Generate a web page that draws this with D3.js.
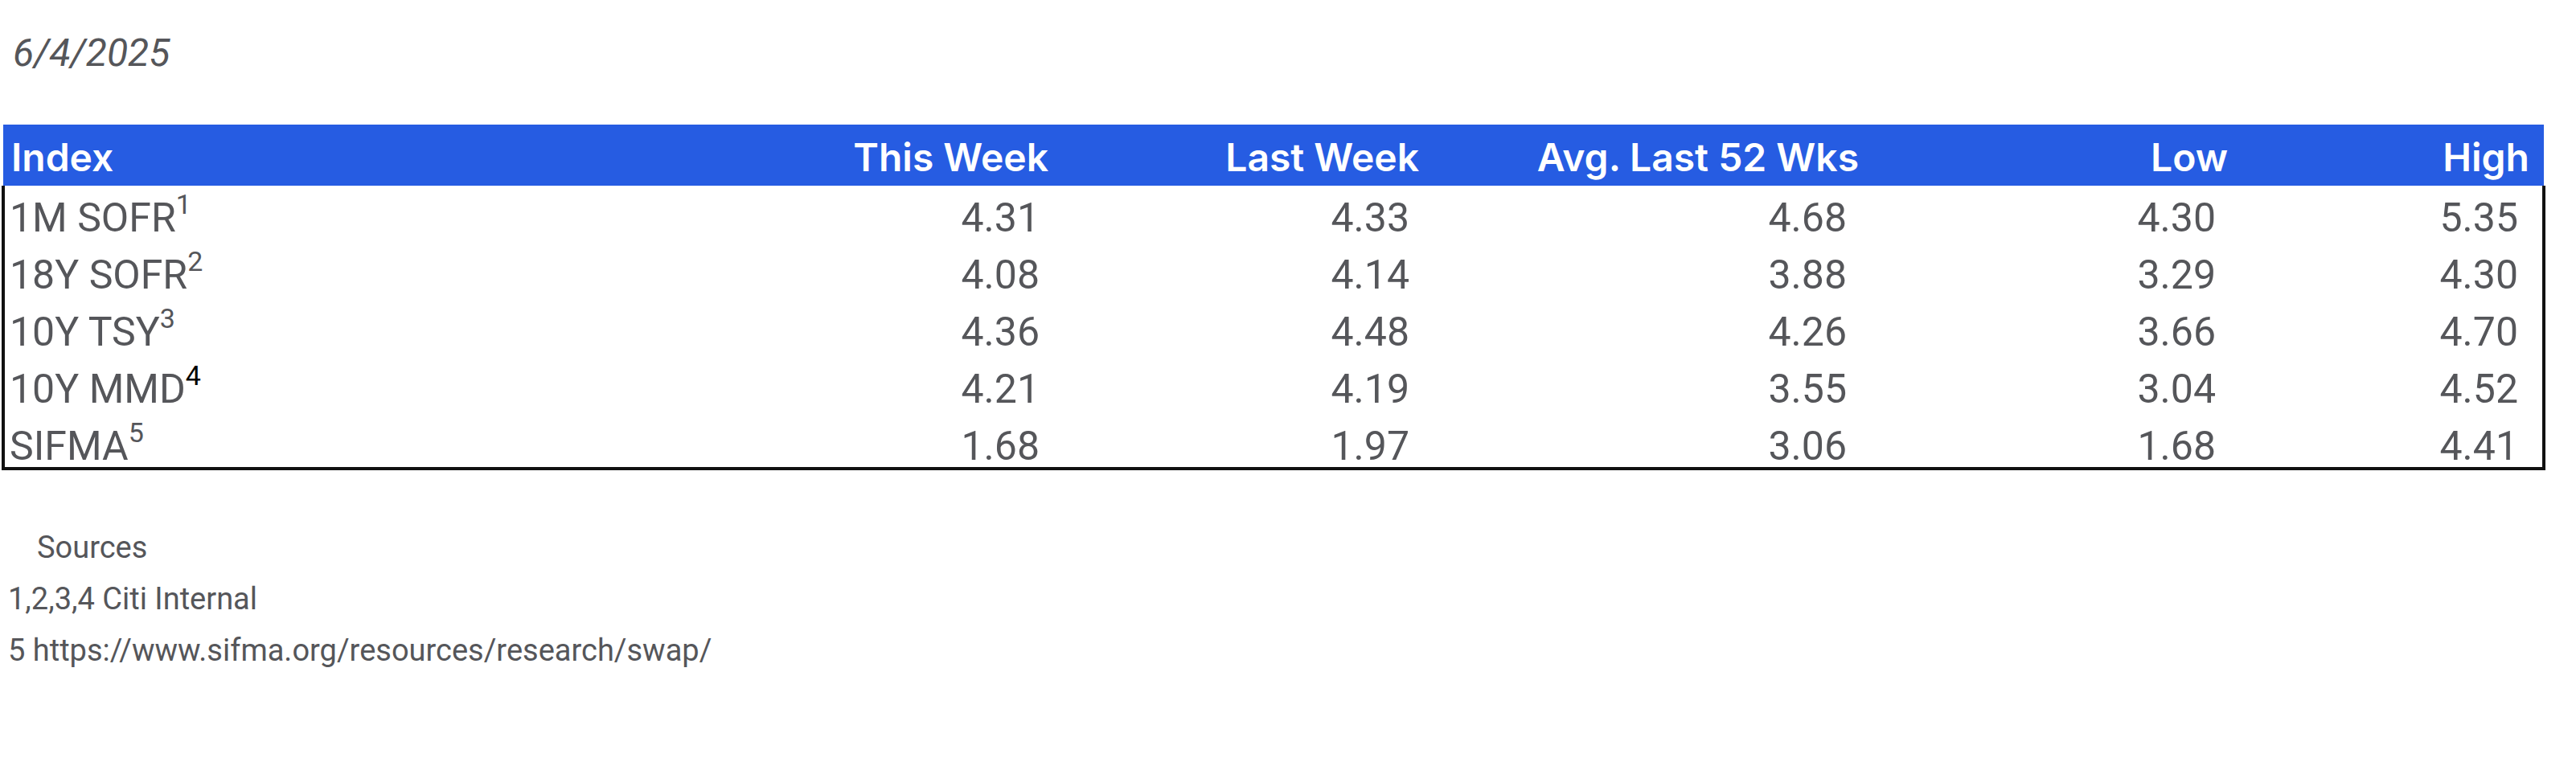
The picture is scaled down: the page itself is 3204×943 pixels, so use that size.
<!DOCTYPE html>
<html>
<head>
<meta charset="utf-8">
<script src="https://cdn.jsdelivr.net/npm/d3@7"></script>
<style>
  body { margin: 0; background: #fff; }
  svg { display: block; }
</style>
</head>
<body>
<svg id="chart" width="3204" height="943"></svg>
<script>
  var dateLabel = '6/4/2025';
  var columns = ['Index', 'This Week', 'Last Week', 'Avg. Last 52 Wks', 'Low', 'High'];
  var indexNames = ['1M SOFR', '18Y SOFR', '10Y TSY', '10Y MMD', 'SIFMA'];
  var footnoteMarks = ['1', '2', '3', '4', '5'];
  var thisWeek = [4.31, 4.08, 4.36, 4.21, 1.68];
  var lastWeek = [4.33, 4.14, 4.48, 4.19, 1.97];
  var avg52 = [4.68, 3.88, 4.26, 3.55, 3.06];
  var low = [4.30, 3.29, 3.66, 3.04, 1.68];
  var high = [5.35, 4.30, 4.70, 4.52, 4.41];
  var sources = ['Sources', '1,2,3,4 Citi Internal', '5 https://www.sifma.org/resources/research/swap/'];

  var svg = d3.select('#chart');
  var grey = '#55565a';
  var bodyFont = '"Liberation Sans Narrow", "Roboto", sans-serif';

  // column right edges for headers / values
  var headerRight = [null, 1304, 1765, 2312, 2771, 3146];
  var valueRight = [null, 1293, 1753, 2297, 2756, 3132];
  var series = [thisWeek, lastWeek, avg52, low, high];

  var y = d3.scaleLinear().domain([0, indexNames.length - 1]).range([288, 572]);

  svg.append('text')
    .attr('x', 16).attr('y', 82)
    .attr('font-family', 'Roboto, sans-serif')
    .attr('font-style', 'italic')
    .attr('font-size', 48)
    .attr('fill', grey)
    .text(dateLabel);

  // header band
  svg.append('rect')
    .attr('x', 4).attr('y', 155).attr('width', 3160).attr('height', 76)
    .attr('fill', '#265ce2');

  svg.selectAll('text.head')
    .data(columns).enter().append('text')
    .attr('class', 'head')
    .attr('x', function(d, i) { return i === 0 ? 14 : headerRight[i]; })
    .attr('y', 213)
    .attr('text-anchor', function(d, i) { return i === 0 ? 'start' : 'end'; })
    .attr('font-family', 'Inter, sans-serif')
    .attr('font-weight', 600)
    .attr('font-size', 48)
    .attr('fill', '#fff')
    .text(function(d) { return d; });

  // table border
  svg.append('path')
    .attr('d', 'M4,231 V583 H3164 V231')
    .attr('fill', 'none')
    .attr('stroke', '#111')
    .attr('stroke-width', 4);

  // row labels with superscripts
  var labels = svg.selectAll('text.lab')
    .data(indexNames).enter().append('text')
    .attr('class', 'lab')
    .attr('x', 12)
    .attr('y', function(d, i) { return y(i); })
    .attr('font-family', bodyFont)
    .attr('font-size', 50)
    .attr('fill', grey);
  labels.append('tspan').text(function(d) { return d; });
  labels.append('tspan')
    .attr('dy', -22)
    .attr('font-size', 34)
    .attr('fill', function(d, i) { return i === 3 ? '#000' : grey; })
    .text(function(d, i) { return footnoteMarks[i]; });

  series.forEach(function(vals, c) {
    svg.selectAll('text.v' + c)
      .data(vals).enter().append('text')
      .attr('class', 'v' + c)
      .attr('x', valueRight[c + 1])
      .attr('y', function(d, i) { return y(i); })
      .attr('text-anchor', 'end')
      .attr('font-family', bodyFont)
      .attr('font-size', 50)
      .attr('fill', grey)
      .text(function(d) { return d3.format('.2f')(d); });
  });

  svg.selectAll('text.src')
    .data(sources).enter().append('text')
    .attr('class', 'src')
    .attr('x', function(d, i) { return i === 0 ? 46 : 10; })
    .attr('y', function(d, i) { return 694 + i * 64; })
    .attr('font-family', bodyFont)
    .attr('font-size', 38)
    .attr('fill', grey)
    .text(function(d) { return d; });
</script>
</body>
</html>
